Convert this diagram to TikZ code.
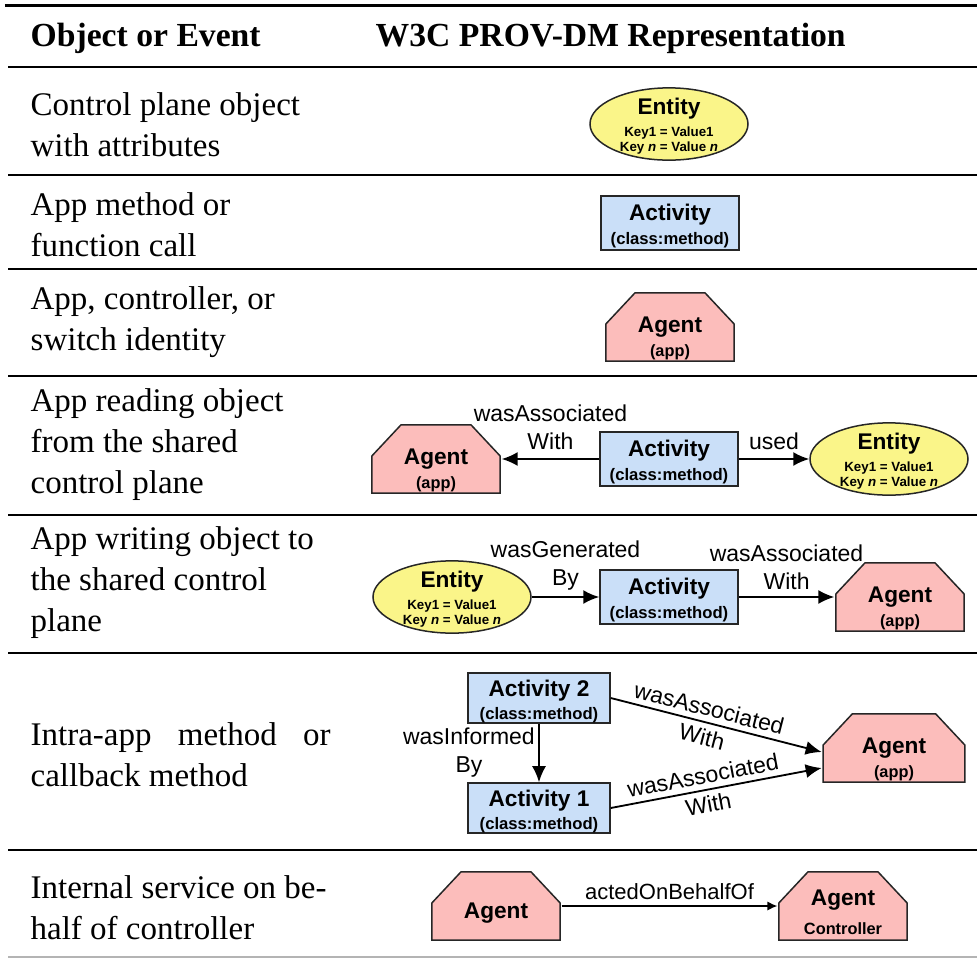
\documentclass[tikz,border=0pt]{standalone}
\usepackage{fontspec}
\setmainfont{Liberation Serif}
\setsansfont{Liberation Sans}
\usepackage{tikz}
\usetikzlibrary{arrows.meta,positioning,shapes.geometric,calc}
\definecolor{entityfill}{HTML}{FAF589}
\definecolor{actfill}{HTML}{CADFF8}
\definecolor{agentfill}{HTML}{FCBDBB}
\definecolor{rulegray}{HTML}{B4B4B4}
\newcommand{\provtitle}[1]{{\fontsize{6.8}{7.2}\selectfont #1}}

\begin{document}
\begin{tikzpicture}[
  x=0.3pt, y=-0.3pt,
  cell/.style={anchor=west, align=left, inner sep=0pt, font=\fontsize{9.9}{12.3}\selectfont},
  headcell/.style={cell, font=\fontsize{10.1}{12.3}\selectfont\bfseries},
  entity/.style={ellipse, draw=black!85, line width=0.45pt, fill=entityfill, minimum width=47.4pt, minimum height=21.6pt, inner xsep=0pt, inner ysep=-1.5pt, text height=17.5pt, align=center, font=\sffamily\bfseries\fontsize{4}{4.5}\selectfont},
  activity/.style={draw=black!85, line width=0.45pt, fill=actfill, minimum width=41.4pt, minimum height=16.2pt, inner sep=0pt, align=center, text height=14pt, font=\sffamily\bfseries\fontsize{5}{7.2}\selectfont},
  agent/.style={rectangle, minimum width=39pt, minimum height=21pt, inner sep=0pt, align=center, text height=18.5pt, font=\sffamily\bfseries\fontsize{4.9}{7.2}\selectfont,
    path picture={
      \draw[draw=black!85, fill=agentfill, line width=0.45pt]
        ([shift={(0.25pt,0.25pt)}]path picture bounding box.south west)
        -- ([shift={(0.25pt,-9.6pt)}]path picture bounding box.north west)
        -- ([shift={(9pt,-0.25pt)}]path picture bounding box.north west)
        -- ([shift={(-9pt,-0.25pt)}]path picture bounding box.north east)
        -- ([shift={(-0.25pt,-9.6pt)}]path picture bounding box.north east)
        -- ([shift={(-0.25pt,0.25pt)}]path picture bounding box.south east) -- cycle;
    }},
  arr/.style={-{Latex[length=4.8pt,width=4.2pt]}, line width=0.55pt},
  thinarr/.style={-{Latex[length=3pt,width=2.8pt]}, line width=0.4pt},
  lbl/.style={font=\sffamily\fontsize{6.9}{8.4}\selectfont, align=center, inner sep=1pt},
  rowrule/.style={line width=0.45pt}
]
  \useasboundingbox (0,0) rectangle (977,958);

  % rules
  \draw[line width=0.9pt] (5,5) -- (977,5);
  \draw[line width=0.6pt] (8,67) -- (977,67);
  \foreach \y in {175,269,376,515,653,850}
    \draw[rowrule] (8,\y) -- (977,\y);
  \draw[line width=0.4pt, rulegray] (8,957) -- (977,957);

  % header
  \node[headcell] (hobj) at (30,38) {Object or Event};
  \node[headcell] (hrep) at (375,38) {W3C PROV-DM Representation};

  % left column
  \node[cell] (t1) at (30,124.5) {Control plane object\\with attributes};
  \node[cell] (t2) at (30,225) {App method or\\function call};
  \node[cell] (t3) at (30,322) {App, controller, or\\switch identity};
  \node[cell] (t4) at (30,445) {App reading object\\from the shared\\control plane};
  \node[cell] (t5) at (30,583) {App writing object to\\the shared control\\plane};
  \node[cell] (t6) at (30,755) {\hbox to 90pt{Intra-app\hfill method\hfill or}\\callback method};
  \node[cell] (t7) at (30,907.5) {Internal service on be-\\half of controller};

  % row 1-3
  \node[entity] (e1) at (669,124) {\provtitle{Entity}\\[2.3pt]Key1 = Value1\\Key \textit{n} = Value \textit{n}};
  \node[activity] (a2) at (670,223) {\provtitle{Activity}\\(class:method)};
  \node[agent] (g3) at (670,327) {\provtitle{Agent}\\(app)};

  % row 4
  \node[agent] (g4) at (436,459) {\provtitle{Agent}\\(app)};
  \node[activity] (a4) at (669,459) {\provtitle{Activity}\\(class:method)};
  \node[entity] (e4) at (889,459) {\provtitle{Entity}\\[2.3pt]Key1 = Value1\\Key \textit{n} = Value \textit{n}};
  \draw[arr] (a4) -- node[lbl, above=1.6pt] {wasAssociated\\With} (g4);
  \draw[arr] (a4) -- node[lbl, above=1.6pt] {used} (e4);

  % row 5
  \node[entity] (e5) at (452,597) {\provtitle{Entity}\\[2.3pt]Key1 = Value1\\Key \textit{n} = Value \textit{n}};
  \node[activity] (a5) at (669,597) {\provtitle{Activity}\\(class:method)};
  \node[agent] (g5) at (900,597) {\provtitle{Agent}\\(app)};
  \draw[arr] (e5) -- node[lbl, above=0.8pt] {wasGenerated\\By} (a5);
  \draw[arr] (a5) -- node[lbl, above=0.8pt] {wasAssociated\\With} (g5);

  % row 6
  \node[activity, minimum width=42.6pt, minimum height=14.1pt, font=\sffamily\bfseries\fontsize{5}{6.9}\selectfont] (a6b) at (539,698) {\provtitle{Activity 2}\\(class:method)};
  \node[activity, minimum width=42.6pt, minimum height=14.1pt, font=\sffamily\bfseries\fontsize{5}{6.9}\selectfont] (a6a) at (539,808) {\provtitle{Activity 1}\\(class:method)};
  \node[agent, minimum width=43pt] (g6) at (894,748) {\provtitle{Agent}\\(app)};
  \draw[arr] (a6b) -- node[lbl, left] {wasInformed\\By} (a6a);
  \draw[arr] (a6b.east) -- node[lbl, sloped, pos=0.45, font=\sffamily\fontsize{6.9}{8.8}\selectfont] {wasAssociated\\With} ($(g6.west)+(0,4)$);
  \draw[arr] (a6a.east) -- node[lbl, sloped, pos=0.45, font=\sffamily\fontsize{6.9}{8.8}\selectfont] {wasAssociated\\With} ($(g6.west)+(0,20)$);

  % row 7
  \node[agent, text height=9pt] (g7a) at (496,906) {\provtitle{Agent}};
  \node[agent, text height=17.2pt] (g7b) at (843,906) {\provtitle{Agent}\\[1.5pt]Controller};
  \draw[thinarr] (g7a) -- node[lbl, above=0.8pt, font=\sffamily\fontsize{6.6}{8}\selectfont] {actedOnBehalfOf} (g7b);
\end{tikzpicture}
\end{document}
